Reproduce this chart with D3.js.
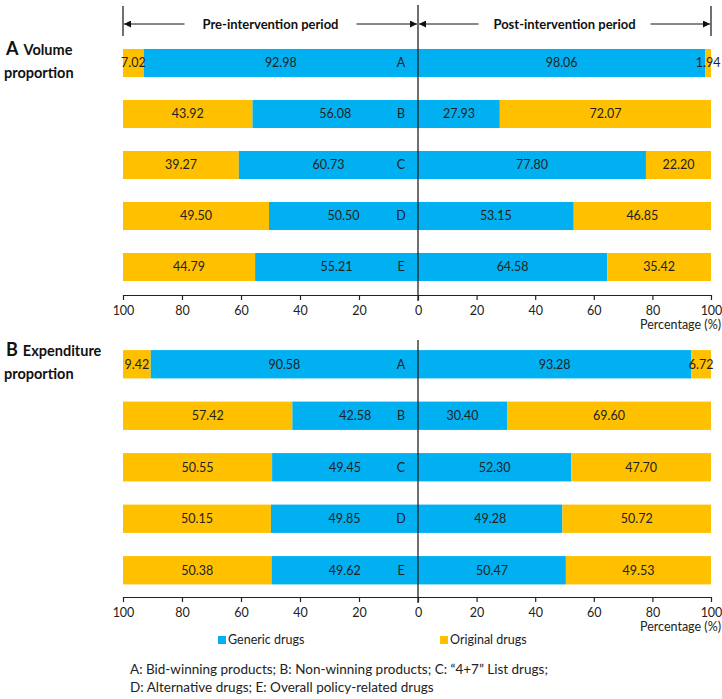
<!DOCTYPE html>
<html>
<head>
<meta charset="utf-8">
<script src="https://cdn.jsdelivr.net/npm/d3@7"></script>
<style>
  body { margin: 0; background: #fff; }
  svg text { font-family: Lato, "Open Sans", sans-serif; }
</style>
</head>
<body>
<svg id="chart" width="722" height="699"></svg>
<script>
// the data
var categories = ['A', 'B', 'C', 'D', 'E'];
var volPreGeneric = [92.98, 56.08, 60.73, 50.50, 55.21],
  volPreOriginal = [7.02, 43.92, 39.27, 49.50, 44.79],
  volPostGeneric = [98.06, 27.93, 77.80, 53.15, 64.58],
  volPostOriginal = [1.94, 72.07, 22.20, 46.85, 35.42];
var expPreGeneric = [90.58, 42.58, 49.45, 49.85, 49.62],
  expPreOriginal = [9.42, 57.42, 50.55, 50.15, 50.38],
  expPostGeneric = [93.28, 30.40, 52.30, 49.28, 50.47],
  expPostOriginal = [6.72, 69.60, 47.70, 50.72, 49.53];
var leftTicks = [100, 80, 60, 40, 20],
  rightTicks = [0, 20, 40, 60, 80, 100];

var BLUE = '#00B0F0',
  ORANGE = '#FFC000',
  MID = 418;

var svg = d3.select('#chart');

var xLeft = d3.scaleLinear().domain([100, 0]).range([123, MID]);
var xRight = d3.scaleLinear().domain([0, 100]).range([MID, 711]);

function drawPanel(opts) {
  var g = svg.append('g');
  var y = d3.scaleBand()
    .domain(categories)
    .range(opts.yRange)
    .paddingInner(0.45)
    .paddingOuter(0.225);
  var bh = y.bandwidth();

  var rows = categories.map(function(c, i) {
    return {
      cat: c,
      preG: opts.preG[i], preO: opts.preO[i],
      postG: opts.postG[i], postO: opts.postO[i]
    };
  });

  var row = g.selectAll('g.row')
    .data(rows)
    .enter()
    .append('g')
    .attr('class', 'row');

  // pre: original on the far left, generic next to the middle
  row.append('rect')
    .attr('x', xLeft(100))
    .attr('y', function(d) { return y(d.cat); })
    .attr('width', function(d) { return xLeft(d.preG) - xLeft(100); })
    .attr('height', bh)
    .attr('fill', ORANGE);
  row.append('rect')
    .attr('x', function(d) { return xLeft(d.preG); })
    .attr('y', function(d) { return y(d.cat); })
    .attr('width', function(d) { return MID - xLeft(d.preG); })
    .attr('height', bh)
    .attr('fill', BLUE);
  // post: generic next to the middle, original on the far right
  row.append('rect')
    .attr('x', MID)
    .attr('y', function(d) { return y(d.cat); })
    .attr('width', function(d) { return xRight(d.postG) - MID; })
    .attr('height', bh)
    .attr('fill', BLUE);
  row.append('rect')
    .attr('x', function(d) { return xRight(d.postG); })
    .attr('y', function(d) { return y(d.cat); })
    .attr('width', function(d) { return xRight(100) - xRight(d.postG); })
    .attr('height', bh)
    .attr('fill', ORANGE);

  function label(xf, tf) {
    row.append('text')
      .attr('x', xf)
      .attr('y', function(d) { return y(d.cat) + bh / 2; })
      .attr('dy', '0.35em')
      .attr('text-anchor', 'middle')
      .style('font-size', '12.5px')
      .attr('fill', '#222')
      .text(tf);
  }
  label(function(d) { return (xLeft(100) + xLeft(d.preG)) / 2; }, function(d) { return d.preO.toFixed(2); });
  label(function(d) { return (xLeft(d.preG) + MID) / 2; }, function(d) { return d.preG.toFixed(2); });
  label(function(d) { return (MID + xRight(d.postG)) / 2; }, function(d) { return d.postG.toFixed(2); });
  label(function(d) { return (xRight(d.postG) + xRight(100)) / 2; }, function(d) { return d.postO.toFixed(2); });
  label(401, function(d) { return d.cat; });

  // axes
  var axL = d3.axisBottom(xLeft).tickValues(leftTicks).tickSize(5).tickSizeOuter(0).tickPadding(6);
  var axR = d3.axisBottom(xRight).tickValues(rightTicks).tickSize(5).tickSizeOuter(0).tickPadding(6);
  [axL, axR].forEach(function(ax) {
    var a = g.append('g')
      .attr('transform', 'translate(0,' + opts.axisY + ')')
      .call(ax);
    a.selectAll('path, line').attr('stroke', '#222').attr('stroke-width', 1.2);
    a.selectAll('text')
      .style('font-size', '12.5px')
      .style('font-family', 'Lato, sans-serif')
      .attr('fill', '#222');
  });

  g.append('text')
    .attr('x', 721)
    .attr('y', opts.axisY + 34)
    .attr('text-anchor', 'end')
    .style('font-size', '12.5px')
    .attr('fill', '#222')
    .text('Percentage (%)');

  // middle line
  g.append('line')
    .attr('x1', MID).attr('x2', MID)
    .attr('y1', opts.midTop).attr('y2', opts.axisY + 6)
    .attr('stroke', '#222')
    .attr('stroke-width', 1.3);

  // panel title
  var t = g.append('text')
    .attr('x', 6)
    .attr('y', opts.titleY)
    .style('font-weight', 700)
    .attr('fill', '#111');
  t.append('tspan').style('font-size', '18px').text(opts.letter);
  t.append('tspan').style('font-size', '14.5px').attr('dx', 5).text(opts.title1);
  g.append('text')
    .attr('x', 4)
    .attr('y', opts.titleY + 23)
    .style('font-weight', 700)
    .style('font-size', '14.5px')
    .attr('fill', '#111')
    .text('proportion');
}

drawPanel({
  yRange: [37.5, 292.5], axisY: 295, midTop: 5, titleY: 55,
  letter: 'A', title1: 'Volume',
  preG: volPreGeneric, preO: volPreOriginal, postG: volPostGeneric, postO: volPostOriginal
});
drawPanel({
  yRange: [338.5, 596], axisY: 597, midTop: 340, titleY: 356,
  letter: 'B', title1: 'Expenditure',
  preG: expPreGeneric, preO: expPreOriginal, postG: expPostGeneric, postO: expPostOriginal
});

// period brackets at the top
var defs = svg.append('defs');
defs.append('marker')
  .attr('id', 'arr')
  .attr('viewBox', '0 0 10 10')
  .attr('refX', 10).attr('refY', 5)
  .attr('markerWidth', 9).attr('markerHeight', 7)
  .attr('orient', 'auto-start-reverse')
  .append('path')
  .attr('d', 'M0,0 L10,5 L0,10 z')
  .attr('fill', '#111');

var header = svg.append('g');
[123, 711].forEach(function(x) {
  header.append('line')
    .attr('x1', x).attr('x2', x)
    .attr('y1', 6).attr('y2', 36)
    .attr('stroke', '#111').attr('stroke-width', 1.2);
});
var periods = [
  { name: 'Pre-intervention period', x0: 123, x1: MID },
  { name: 'Post-intervention period', x0: MID, x1: 711 }
];
periods.forEach(function(p) {
  var cx = (p.x0 + p.x1) / 2;
  header.append('text')
    .attr('x', cx)
    .attr('y', 24)
    .attr('dy', '0.35em')
    .attr('text-anchor', 'middle')
    .style('font-size', '13px')
    .style('font-weight', 700)
    .attr('fill', '#111')
    .text(p.name);
  header.append('line')
    .attr('x1', cx - 86).attr('x2', p.x0 + 1)
    .attr('y1', 24).attr('y2', 24)
    .attr('stroke', '#111')
    .attr('marker-end', 'url(#arr)');
  header.append('line')
    .attr('x1', cx + 86).attr('x2', p.x1 - 1)
    .attr('y1', 24).attr('y2', 24)
    .attr('stroke', '#111')
    .attr('marker-end', 'url(#arr)');
});

// legend
var legend = [
  { name: 'Generic drugs', color: BLUE, x: 218 },
  { name: 'Original drugs', color: ORANGE, x: 440 }
];
var lg = svg.selectAll('g.legend')
  .data(legend)
  .enter()
  .append('g')
  .attr('class', 'legend');
lg.append('rect')
  .attr('x', function(d) { return d.x; })
  .attr('y', 636)
  .attr('width', 8).attr('height', 8)
  .attr('fill', function(d) { return d.color; });
lg.append('text')
  .attr('x', function(d) { return d.x + 10; })
  .attr('y', 640)
  .attr('dy', '0.35em')
  .style('font-size', '12.5px')
  .attr('fill', '#222')
  .text(function(d) { return d.name; });

// footnote
var notes = [
  'A: Bid-winning products; B: Non-winning products; C: \u201c4+7\u201d List drugs;',
  'D: Alternative drugs; E: Overall policy-related drugs'
];
svg.selectAll('text.note')
  .data(notes)
  .enter()
  .append('text')
  .attr('class', 'note')
  .attr('x', 130)
  .attr('y', function(d, i) { return 674 + i * 18; })
  .style('font-size', '13.5px')
  .attr('fill', '#222')
  .text(function(d) { return d; });
</script>
</body>
</html>
